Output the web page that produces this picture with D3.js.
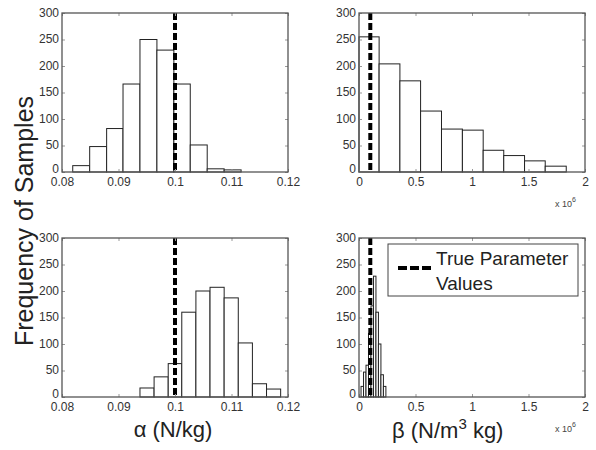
<!DOCTYPE html>
<html>
<head>
<meta charset="utf-8">
<script src="https://cdn.jsdelivr.net/npm/d3@7"></script>
<style>
  body { margin: 0; background: #fff; }
  text { font-family: "Liberation Sans", Arial, sans-serif; }
  .tick text { fill: #333; font-size: 12px; }
</style>
</head>
<body>
<script>
// Histogramas de muestras (bordes de clase y frecuencias)
var alphaEdgesTop = [0.0819, 0.0849, 0.0879, 0.0908, 0.0938, 0.0968, 0.0998, 0.1027, 0.1057, 0.1087, 0.1117];
var alphaCountsTop = [12, 48, 82, 166, 250, 230, 166, 51, 6, 4];

var betaEdgesTop = [0.0, 0.178, 0.362, 0.545, 0.730, 0.915, 1.099, 1.281, 1.465, 1.648, 1.834]; // x 1e6
var betaCountsTop = [255, 204, 172, 115, 81, 79, 41, 31, 21, 11];

var alphaEdgesBot = [0.0938, 0.0963, 0.0988, 0.1012, 0.1037, 0.1062, 0.1087, 0.1112, 0.1137, 0.1162, 0.1187];
var alphaCountsBot = [17, 38, 63, 160, 200, 207, 187, 102, 25, 15];

var betaEdgesBot = [0.018, 0.040, 0.062, 0.084, 0.106, 0.128, 0.150, 0.172, 0.194, 0.216, 0.238]; // x 1e6
var betaCountsBot = [20, 47, 60, 120, 172, 228, 160, 100, 42, 20];

// Valores verdaderos de los parametros
var trueAlpha = 0.1;
var trueBeta = 0.1; // x 1e6

var alphaTicks = [0.08, 0.09, 0.1, 0.11, 0.12];
var betaTicks = [0, 0.5, 1, 1.5, 2];
var yTicks = [0, 50, 100, 150, 200, 250, 300];

var W = 596, H = 450;
var svg = d3.select("body").append("svg")
    .attr("width", W)
    .attr("height", H);

// Posicion de cada panel
var cols = [{x0: 62, x1: 288}, {x0: 359, x1: 585}];
var rows = [{y0: 13, y1: 172}, {y0: 238, y1: 397}];

var panels = [
  {col: 0, row: 0, edges: alphaEdgesTop, counts: alphaCountsTop, dom: [0.08, 0.12], ticks: alphaTicks, truth: trueAlpha, exp: false},
  {col: 1, row: 0, edges: betaEdgesTop, counts: betaCountsTop, dom: [0, 2], ticks: betaTicks, truth: trueBeta, exp: true},
  {col: 0, row: 1, edges: alphaEdgesBot, counts: alphaCountsBot, dom: [0.08, 0.12], ticks: alphaTicks, truth: trueAlpha, exp: false},
  {col: 1, row: 1, edges: betaEdgesBot, counts: betaCountsBot, dom: [0, 2], ticks: betaTicks, truth: trueBeta, exp: true}
];

var fmt = function(d) { return String(+d.toFixed(3)); };

panels.forEach(function(p) {
  var c = cols[p.col], r = rows[p.row];
  var w = c.x1 - c.x0, h = r.y1 - r.y0;
  var x = d3.scaleLinear().domain(p.dom).range([0, w]);
  var y = d3.scaleLinear().domain([0, 300]).range([h, 0]);

  var g = svg.append("g").attr("transform", "translate(" + c.x0 + "," + r.y0 + ")");

  g.append("rect").attr("width", w).attr("height", h).attr("fill", "#fff");

  // Barras
  var bins = p.counts.map(function(v, i) { return {a: p.edges[i], b: p.edges[i + 1], v: v}; });
  g.selectAll("rect.bar").data(bins).enter().append("rect")
      .attr("class", "bar")
      .attr("x", function(d) { return x(Math.max(d.a, p.dom[0])); })
      .attr("width", function(d) { return x(d.b) - x(Math.max(d.a, p.dom[0])); })
      .attr("y", function(d) { return y(d.v); })
      .attr("height", function(d) { return h - y(d.v); })
      .attr("fill", "#fff")
      .attr("stroke", "#222")
      .attr("stroke-width", 1);

  // Linea del valor verdadero
  g.append("line")
      .attr("x1", x(p.truth)).attr("x2", x(p.truth))
      .attr("y1", y(300)).attr("y2", y(0))
      .attr("stroke", "#000")
      .attr("stroke-width", 4)
      .attr("stroke-dasharray", "7,3");

  // Ejes
  var xb = g.append("g").attr("transform", "translate(0," + h + ")")
      .call(d3.axisBottom(x).tickValues(p.ticks).tickFormat(fmt).tickSizeInner(-3).tickSizeOuter(0).tickPadding(5));
  var xt = g.append("g")
      .call(d3.axisTop(x).tickValues(p.ticks).tickFormat("").tickSizeInner(-3).tickSizeOuter(0));
  var yl = g.append("g")
      .call(d3.axisLeft(y).tickValues(yTicks).tickSizeInner(-3).tickSizeOuter(0).tickPadding(3));
  var yr = g.append("g").attr("transform", "translate(" + w + ",0)")
      .call(d3.axisRight(y).tickValues(yTicks).tickFormat("").tickSizeInner(-3).tickSizeOuter(0));
  [xb, xt, yl, yr].forEach(function(a) {
    a.select(".domain").remove();
    a.selectAll(".tick line").attr("stroke", "#999");
  });
  xb.selectAll(".tick text").attr("font-size", 12);
  yl.selectAll(".tick text").attr("font-size", 12)
      .attr("dy", function(d) { return d === 0 ? "0.02em" : "0.28em"; });

  // Marco
  g.append("rect").attr("width", w).attr("height", h)
      .attr("fill", "none").attr("stroke", "#555").attr("stroke-width", 1.3);

  if (p.exp) {
    var t = g.append("text")
        .attr("x", w - 30).attr("y", h + 35)
        .attr("font-size", 9).attr("fill", "#444");
    t.append("tspan").text("x 10");
    t.append("tspan").attr("dy", -5).attr("font-size", 7).text("6");
  }
});

// Etiquetas de los ejes
svg.append("text")
    .attr("transform", "translate(33,221) rotate(-90)")
    .attr("text-anchor", "middle")
    .attr("font-size", 25)
    .attr("fill", "#222")
    .text("Frequency of Samples");

svg.append("text")
    .attr("x", 173).attr("y", 437)
    .attr("text-anchor", "middle")
    .attr("font-size", 22)
    .attr("fill", "#222")
    .text("\u03b1 (N/kg)");

var bl = svg.append("text")
    .attr("x", 392).attr("y", 438)
    .attr("font-size", 22)
    .attr("fill", "#222");
bl.append("tspan").text("\u03b2 (N/m");
bl.append("tspan").attr("dy", -9).attr("font-size", 15).text("3");
bl.append("tspan").attr("dy", 9).text(" kg)");

// Leyenda
var leg = svg.append("g");
leg.append("rect")
    .attr("x", 388).attr("y", 244).attr("width", 190).attr("height", 52)
    .attr("fill", "#fff").attr("stroke", "#444").attr("stroke-width", 1);
leg.append("line")
    .attr("x1", 398).attr("x2", 432).attr("y1", 268).attr("y2", 268)
    .attr("stroke", "#000").attr("stroke-width", 4)
    .attr("stroke-dasharray", "9,3");
leg.append("text").attr("x", 436).attr("y", 265).attr("font-size", 19).attr("fill", "#222").text("True Parameter");
leg.append("text").attr("x", 436).attr("y", 290).attr("font-size", 19).attr("fill", "#222").text("Values");
</script>
</body>
</html>
